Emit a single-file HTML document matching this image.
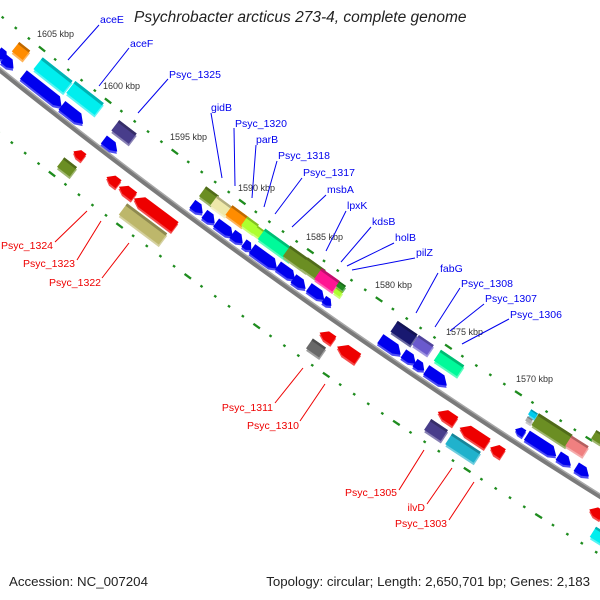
<!DOCTYPE html>
<html><head><meta charset="utf-8"><style>
html,body{margin:0;padding:0;background:#fff;}
svg{display:block;}
text{font-family:"Liberation Sans",sans-serif;}
</style></head><body>
<svg id="s" width="600" height="600" viewBox="0 0 600 600" xmlns="http://www.w3.org/2000/svg">
<rect width="600" height="600" fill="#fff"/>
<g id="g"></g>
<g font-size="9" fill="#333">
<text x="37" y="37">1605 kbp</text>
<text x="103" y="89">1600 kbp</text>
<text x="170" y="140">1595 kbp</text>
<text x="238" y="191">1590 kbp</text>
<text x="306" y="240">1585 kbp</text>
<text x="375" y="288">1580 kbp</text>
<text x="446" y="335">1575 kbp</text>
<text x="516" y="382">1570 kbp</text>
</g>
<g stroke="#0000ee" stroke-width="1" fill="none">
<line x1="99" y1="25" x2="68" y2="60"/>
<line x1="129" y1="48" x2="99" y2="86"/>
<line x1="168" y1="79" x2="138" y2="113"/>
<line x1="211" y1="113" x2="222" y2="178"/>
<line x1="234" y1="128" x2="235" y2="186"/>
<line x1="256" y1="145" x2="252" y2="198"/>
<line x1="277" y1="161" x2="264" y2="207"/>
<line x1="302" y1="178" x2="275" y2="214"/>
<line x1="326" y1="195" x2="292" y2="227"/>
<line x1="346" y1="211" x2="326" y2="251"/>
<line x1="371" y1="227" x2="341" y2="262"/>
<line x1="394" y1="243" x2="347" y2="266"/>
<line x1="415" y1="258" x2="352" y2="270"/>
<line x1="438" y1="273" x2="416" y2="313"/>
<line x1="460" y1="288" x2="435" y2="327"/>
<line x1="484" y1="304" x2="450" y2="331"/>
<line x1="509" y1="319" x2="462" y2="344"/>
</g>
<g font-size="10.5" fill="#0000ee">
<text x="100" y="23">aceE</text>
<text x="130" y="47">aceF</text>
<text x="169" y="78">Psyc_1325</text>
<text x="211" y="111">gidB</text>
<text x="235" y="127">Psyc_1320</text>
<text x="256" y="143">parB</text>
<text x="278" y="159">Psyc_1318</text>
<text x="303" y="176">Psyc_1317</text>
<text x="327" y="193">msbA</text>
<text x="347" y="209">lpxK</text>
<text x="372" y="225">kdsB</text>
<text x="395" y="241">holB</text>
<text x="416" y="256">pilZ</text>
<text x="440" y="272">fabG</text>
<text x="461" y="287">Psyc_1308</text>
<text x="485" y="302">Psyc_1307</text>
<text x="510" y="318">Psyc_1306</text>
</g>
<g stroke="#ee0000" stroke-width="1" fill="none">
<line x1="55" y1="242" x2="87" y2="211"/>
<line x1="77" y1="260" x2="101" y2="221"/>
<line x1="102" y1="278" x2="129" y2="243"/>
<line x1="275" y1="403" x2="303" y2="368"/>
<line x1="300" y1="421" x2="325" y2="384"/>
<line x1="399" y1="490" x2="424" y2="450"/>
<line x1="427" y1="504" x2="452" y2="468"/>
<line x1="449" y1="520" x2="474" y2="482"/>
</g>
<g font-size="10.5" fill="#ee0000" text-anchor="end">
<text x="53" y="249">Psyc_1324</text>
<text x="75" y="267">Psyc_1323</text>
<text x="101" y="286">Psyc_1322</text>
<text x="273" y="411">Psyc_1311</text>
<text x="299" y="429">Psyc_1310</text>
<text x="397" y="496">Psyc_1305</text>
<text x="425" y="511">ilvD</text>
<text x="447" y="527">Psyc_1303</text>
</g>
<text x="134" y="22" font-size="15.5" font-style="italic" fill="#222">Psychrobacter arcticus 273-4, complete genome</text>
<text x="9" y="586" font-size="13.3" fill="#222">Accession: NC_007204</text>
<text x="590" y="586" font-size="13.3" fill="#222" text-anchor="end">Topology: circular; Length: 2,650,701 bp; Genes: 2,183</text>
</svg>
<script>
(function(){
var NS="http://www.w3.org/2000/svg",g=document.getElementById("g");
var cx=3987,cy=-4908,R=6378;
function el(t,a){var e=document.createElementNS(NS,t);for(var k in a)e.setAttribute(k,a[k]);g.appendChild(e);return e;}
function rot(x,y){return Math.atan2(y-cy,x-cx)*180/Math.PI-90;}
function pt(th,r){return [cx+r*Math.cos(th),cy+r*Math.sin(th)];}
var p1=[],p2=[];
for(var i=0;i<=60;i++){var th=(129.2-i*(7.6/60))*Math.PI/180;var a=pt(th,R),b=pt(th,R-2);p1.push(a.join(","));p2.push(b.join(","));}
el("polyline",{points:p1.join(" "),fill:"none",stroke:"#7a7a7a","stroke-width":5});
el("polyline",{points:p2.join(" "),fill:"none",stroke:"#a8a8a8","stroke-width":1.5});
function ticks(px,py,len){var th0=Math.atan2(py-cy,px-cx),r=Math.hypot(px-cx,py-cy),st=len/5/r;
 for(var k=-10;k<60;k++){var th=th0-k*st;var p=pt(th,r);if(p[0]<-10||p[0]>610)continue;
  var maj=(k%5==0),l=maj?4:1.3;var tx=-Math.sin(th),ty=Math.cos(th);
  el("line",{x1:p[0]-tx*l,y1:p[1]-ty*l,x2:p[0]+tx*l,y2:p[1]+ty*l,stroke:"#1e8c1e","stroke-width":2.3});}}
ticks(42,49,84);ticks(52,174,85);
function shade(c,f){var n=parseInt(c.slice(1),16),r=n>>16,gg=(n>>8)&255,b=n&255;
 function m(v){return Math.max(0,Math.min(255,Math.round(f>1?v+(255-v)*(f-1):v*f)));}
 return "rgb("+m(r)+","+m(gg)+","+m(b)+")";}
function box(x,y,L,h,c){var t="translate("+x+","+y+") rotate("+rot(x,y)+")";
 var gg=el("g",{transform:t});
 var s=document.createElementNS(NS,"rect");s.setAttribute("x",-L/2+1.5);s.setAttribute("y",-h/2+2);s.setAttribute("width",L);s.setAttribute("height",h);s.setAttribute("fill",shade(c,1.35));gg.appendChild(s);
 var m=document.createElementNS(NS,"rect");m.setAttribute("x",-L/2);m.setAttribute("y",-h/2);m.setAttribute("width",L);m.setAttribute("height",h);m.setAttribute("fill",c);gg.appendChild(m);
 var tp=document.createElementNS(NS,"rect");tp.setAttribute("x",-L/2);tp.setAttribute("y",-h/2);tp.setAttribute("width",L);tp.setAttribute("height",Math.max(1.5,h*0.2));tp.setAttribute("fill",shade(c,0.75));gg.appendChild(tp);}
function arr(x,y,L,h,c,d){var t="translate("+x+","+y+") rotate("+rot(x,y)+") scale("+d+",1)";
 var gg=el("g",{transform:t});var a=Math.min(L*0.45,h*0.7);
 var pts=[[-L/2,-h/2],[L/2-a,-h/2],[L/2,h*0.15],[L/2-a,h/2],[-L/2,h/2]];
 function P(dx,dy,f){var q=document.createElementNS(NS,"polygon");q.setAttribute("points",pts.map(function(p){return (p[0]+dx)+","+(p[1]+dy);}).join(" "));q.setAttribute("fill",f);gg.appendChild(q);}
 P(1*d,2,shade(c,1.3));P(0,0,c);}
var B="#0000ee",RD="#ee0000";
box(21,51,14,12,"#ff8c00");
box(53,75,38,15,"#00eeee");box(85,98,36,15,"#00eeee");
box(124,132,22,13,"#483d8b");
box(209,196,16,12,"#6b8e23");box(221,206,18,12,"#eee8aa");box(237,216,20,12,"#ff8c00");
box(250,225,14,11,"#adff2f");box(260,233,12,9,"#adff2f");box(277,245,38,13,"#00fa9a");
box(298,259,28,13,"#6b8e23");box(313,269,22,13,"#6b8e23");box(327,280,22,13,"#ff1493");
box(341,286,8,6,"#228b22");box(338,292,8,6,"#adff2f");
box(404,333,24,13,"#191970");box(423,345,18,12,"#6a5acd");box(449,363,28,13,"#00fa9a");
box(533,414,8,6,"#00ccee");box(529,420,6,5,"#aaaaaa");box(552,430,40,14,"#6b8e23");box(577,446,20,12,"#f08080");
box(598,437,10,10,"#6b8e23");
arr(3,55,12,10,B,1);arr(9,63,14,10,B,1);arr(43,90,50,11,B,1);arr(73,114,28,11,B,1);arr(111,145,18,10,B,1);
arr(198,208,14,10,B,1);arr(210,218,14,10,B,1);arr(225,229,22,10,B,1);arr(238,238,14,10,B,1);arr(248,246,10,9,B,1);
arr(265,258,32,11,B,1);arr(287,272,22,10,B,1);arr(300,283,16,10,B,1);arr(317,293,20,10,B,1);arr(328,302,10,8,B,1);
arr(391,346,26,11,B,1);arr(410,358,16,10,B,1);arr(420,366,12,9,B,1);arr(437,377,26,11,B,1);
arr(520,431,10,8,B,-1);arr(542,445,36,11,B,1);arr(565,460,16,10,B,1);arr(583,471,16,10,B,1);
arr(79,154,12,9,RD,-1);box(67,167,16,12,"#6b8e23");
arr(113,180,14,10,RD,-1);arr(127,191,18,10,RD,-1);arr(155,212,50,12,RD,-1);box(143,224,50,14,"#bdb76b");
arr(327,336,16,10,RD,-1);box(316,348,16,12,"#696969");arr(348,352,24,12,RD,-1);
arr(447,416,20,11,RD,-1);box(436,430,20,13,"#483d8b");arr(474,435,32,12,RD,-1);box(463,448,34,13,"#20b2cc");arr(497,450,14,11,RD,-1);
arr(596,512,14,10,RD,-1);box(598,535,12,12,"#00eeee");
})();
</script>
</body></html>
